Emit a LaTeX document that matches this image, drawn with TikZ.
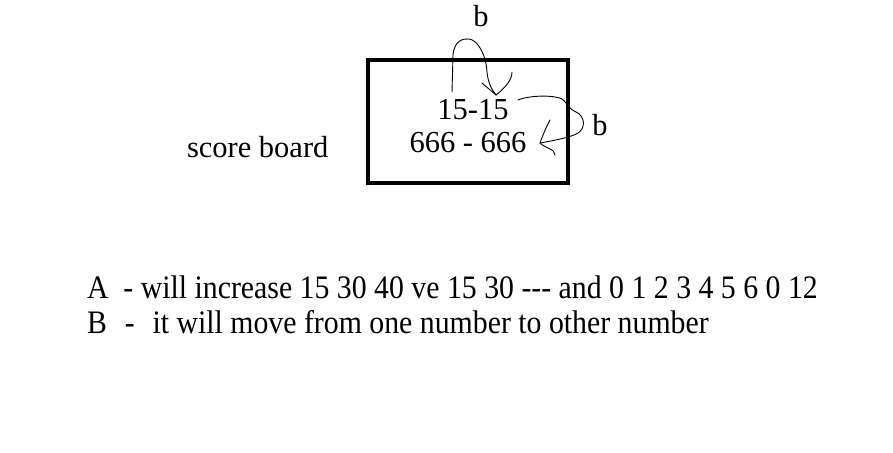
\documentclass[tikz,border=0pt]{standalone}
\usepackage{fontspec}
\setmainfont{Liberation Serif}
\usetikzlibrary{positioning}

\newcommand{\tallline}[1]{\scalebox{1}[1.1]{#1}}

\begin{document}
\begin{tikzpicture}[x=1pt,y=-1pt,
    every node/.style={inner sep=0pt,outer sep=0pt},
    big/.style={font=\fontsize{30.5}{36}\selectfont},
    note/.style={font=\fontsize{29.8}{36}\selectfont,anchor=base west},
    hand/.style={line width=0.9pt,line cap=round,line join=round}]
    \useasboundingbox[fill=white] (0,0) rectangle (893,452);

    \node[draw, line width=4pt, minimum width=200pt, minimum height=123pt] (board) at (468,121.5) {};
    \node[big, anchor=base] (points) at (473,119) {15-15};
    \node[big, anchor=base] (games) at (468,152) {666 - 666};
    \node[big, anchor=base west] (title) at (187,157) {score board};
    \node[big, anchor=base] (b1) at (481,27) {b};
    \node[big, anchor=base] (b2) at (600,135) {b};

    % top swap
    \coordinate (s1) at (452,92);
    \coordinate (t1) at (496,95);
    \draw[hand] (s1) -- (453,55) .. controls (454,42) and (462,38) .. (469,39)
        .. controls (478,40) and (486,55) .. (487,72)
        .. controls (488,83) and (492,90) .. (t1);
    \draw[hand] (t1) -- (482,83);
    \draw[hand] (t1) .. controls (505,88) and (512,80) .. (512,72);

    % right swap
    \coordinate (s2) at (518,100);
    \coordinate (t2) at (540,143);
    \draw[hand] (s2) .. controls (530,95) and (555,95) .. (562,99)
        .. controls (568,104) and (570,110) .. (576,112)
        .. controls (585,116) and (586,128) .. (578,133)
        .. controls (572,137) and (552,141) .. (t2);
    \draw[hand] (550,120) .. controls (547,125) and (542,137) .. (t2);
    \draw[hand] (t2) .. controls (545,148) and (555,149) .. (555,155);

    \node[note] (lineA) at (87,298) {\tallline{A\hspace{0.5em}- will increase 15 30 40 ve 15 30 -{}-{}- and 0 1 2 3 4 5 6 0 12}};
    \node[note] (lineB) at (87,333) {\tallline{B\hspace{0.6em}-\hspace{0.6em}it will move from one number to other number}};
\end{tikzpicture}
\end{document}
